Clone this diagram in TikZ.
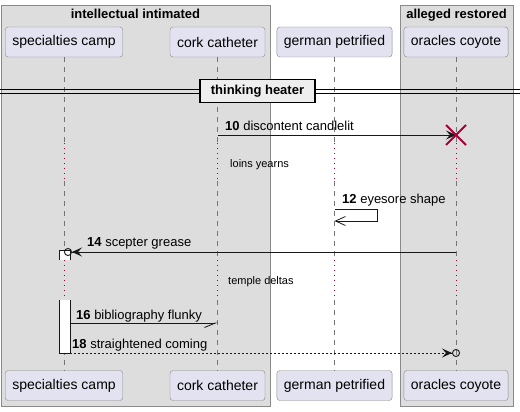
\documentclass[tikz,border=0pt]{standalone}
\usepackage{fontspec}
\setmainfont{Liberation Sans}
\usetikzlibrary{arrows.meta}
\definecolor{seqgroup}{HTML}{DDDDDD}
\definecolor{seqedge}{HTML}{8A8A8A}
\definecolor{seqpart}{HTML}{E2E2F0}
\definecolor{seqline}{HTML}{181818}
\definecolor{seqdelay}{HTML}{A80036}
\definecolor{seqdiv}{HTML}{EEEEEE}
\tikzset{
  actor/.style={draw=seqedge,fill=seqpart,rounded corners=3pt,minimum height=30pt,inner xsep=7pt,font=\fontsize{14}{16}\selectfont},
  life/.style={seqline!60,dash pattern=on 5pt off 5pt,line width=0.6pt},
  delay/.style={seqdelay,dash pattern=on 1pt off 4pt,line width=0.9pt},
  msg/.style={seqline,line width=0.9pt},
  lbl/.style={anchor=base west,inner sep=0pt,font=\fontsize{13}{15}\selectfont},
  remark/.style={anchor=base west,inner sep=0pt,font=\fontsize{11}{13}\selectfont},
  grptitle/.style={anchor=base,inner sep=0pt,font=\fontsize{13}{15}\selectfont\bfseries}
}

\begin{document}
\begin{tikzpicture}[x=1pt,y=-1pt,>={Stealth[length=10pt,width=9pt,inset=4pt]}]
\useasboundingbox (0,0) rectangle (520,412);
% Group boxes behind everything.
\draw[draw=seqedge,fill=seqgroup] (1,5) rectangle (270,406);
\draw[draw=seqedge,fill=seqgroup] (400,5) rectangle (513,406);
\node[grptitle] (grpleft) at (135.5,19) {intellectual intimated};
\node[grptitle] (grpright) at (456.5,19) {alleged restored};
% Rows of the messages and of the two delays.
\coordinate (r10) at (0,135);
\coordinate (r12a) at (0,209);
\coordinate (r12b) at (0,221);
\coordinate (r14) at (0,252);
\coordinate (r16) at (0,323);
\coordinate (r18) at (0,353);
\coordinate (d1a) at (0,143);
\coordinate (d1b) at (0,181);
\coordinate (d2a) at (0,260);
\coordinate (d2b) at (0,300);
% Participants, head and foot.
\node[actor] (spec) at (64,42) {specialties camp};
\node[actor] (cork) at (217.5,42) {cork catheter};
\node[actor] (germ) at (334.5,42) {german petrified};
\node[actor] (orac) at (456,42) {oracles coyote};
\node[actor] (specfoot) at (64,385.5) {specialties camp};
\node[actor] (corkfoot) at (217.5,385.5) {cork catheter};
\node[actor] (germfoot) at (334.5,385.5) {german petrified};
\node[actor] (oracfoot) at (456,385.5) {oracles coyote};
% Lifelines, dotted in red across the delays.
\foreach \p in {spec,cork,germ,orac} {
  \draw[life] (\p.south) -- (\p.south |- d1a);
  \draw[delay] (\p.south |- d1a) -- (\p.south |- d1b);
  \draw[life] (\p.south |- d1b) -- (\p.south |- d2a);
  \draw[delay] (\p.south |- d2a) -- (\p.south |- d2b);
  \draw[life] (\p.south |- d2b) -- (\p foot.north);
}
% Divider.
\coordinate (divl) at (0,91);
\coordinate (divr) at (520,91);
\draw[line width=0.9pt] ([yshift=2pt]divl) -- ([yshift=2pt]divr);
\draw[line width=0.9pt] ([yshift=-2pt]divl) -- ([yshift=-2pt]divr);
\node[draw,line width=1.6pt,fill=seqdiv,minimum width=115pt,minimum height=23pt,font=\fontsize{13}{15}\selectfont\bfseries] (divider) at (257.5,91) {thinking heater};
% Activation on specialties camp, cut by the second delay.
\fill[white] (59,250) rectangle (70,260);
\draw[seqline,line width=0.7pt] (59,260) -- (59,250) -- (70,250) -- (70,260);
\fill[white] (59,300) rectangle (70,353);
\draw[seqline,line width=0.7pt] (59,300) -- (59,353) -- (70,353) -- (70,300);
% Messages.
\draw[msg,->] (cork.south |- r10) -- (orac.south |- r10);
\node[lbl] (l10) at (225,131) {\textbf{10} discontent candlelit};
\draw[seqdelay,line width=1.8pt] ([shift={(-10,-10)}]orac.south |- r10) -- ([shift={(10,10)}]orac.south |- r10);
\draw[seqdelay,line width=1.8pt] ([shift={(-10,10)}]orac.south |- r10) -- ([shift={(10,-10)}]orac.south |- r10);
\node[remark] (n1) at (230,167.5) {loins yearns};
\draw[msg,-{Straight Barb[length=10pt,width=9pt,line width=0.8pt]}] (germ.south |- r12a) -- ++(43,0) |- (germ.south |- r12b);
\node[lbl] (l12) at (342,203.5) {\textbf{12} eyesore shape};
\draw[msg,-{Stealth[length=10pt,width=9pt,inset=4pt,sep=0pt] Circle[open,length=8pt,width=8pt]}] (orac.south |- r14) -- (spec.south |- r14);
\node[lbl] (l14) at (87,246.5) {\textbf{14} scepter grease};
\node[remark] (n2) at (228,284) {temple deltas};
\draw[msg,-{Straight Barb[right,length=11pt,width=9pt,line width=0.8pt]}] ([xshift=6pt]spec.south |- r16) -- (cork.south |- r16);
\node[lbl] (l16) at (76,319) {\textbf{16} bibliography flunky};
\draw[msg,dash pattern=on 2pt off 2pt,-{Stealth[length=10pt,width=9pt,inset=4pt,sep=0pt] Circle[open,length=8pt,width=8pt]}] ([xshift=6pt]spec.south |- r18) -- ([xshift=4pt]orac.south |- r18);
\node[lbl] (l18) at (72,348) {\textbf{18} straightened coming};
\end{tikzpicture}
\end{document}
